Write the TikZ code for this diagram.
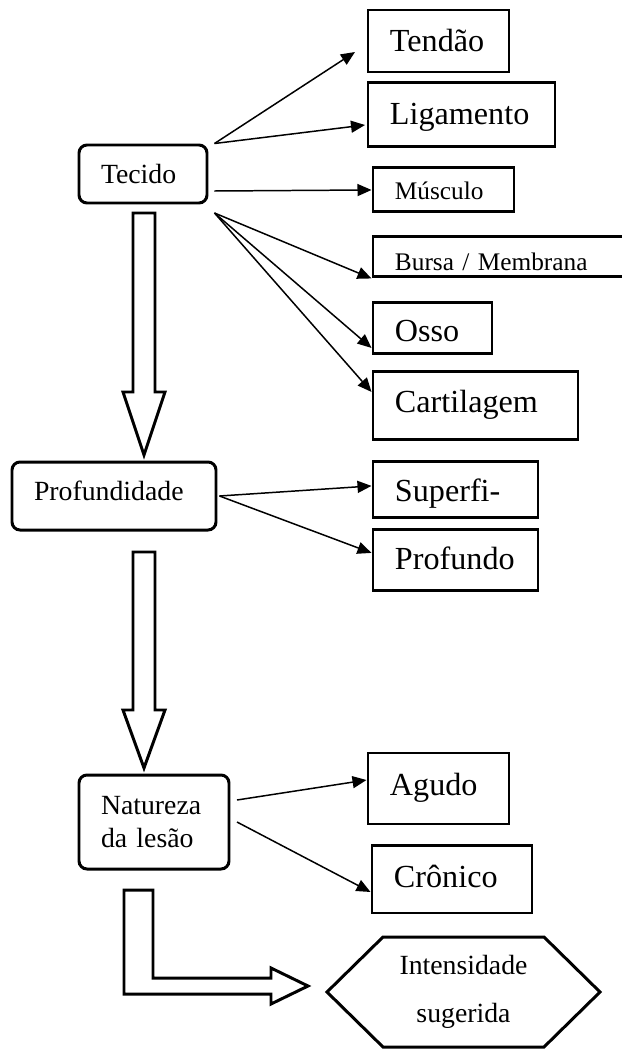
\documentclass[tikz,border=0pt]{standalone}
\usepackage{fontspec}
\setmainfont{Liberation Serif}
\usetikzlibrary{arrows.meta, positioning, calc}
\newcommand{\fontbig}{\fontsize{18.3}{21}\selectfont}
\newcommand{\fontmid}{\fontsize{15.8}{18.7}\selectfont}
\newcommand{\fontsmall}{\fontsize{14.4}{17}\selectfont}
\tikzset{
    category/.style={rectangle, draw, rounded corners=0.16cm, line width=1.7pt, inner xsep=0.44cm, inner ysep=0pt, align=left, font=\fontmid},
    option box/.style={rectangle, draw, line width=1.7pt, inner xsep=0.44cm, inner ysep=0pt, align=left, text depth=0pt, font=\fontbig},
    result/.style={inner sep=0pt, outer sep=0pt, align=center, font=\fontsize{15.8}{27.2}\selectfont},
    link/.style={-{Triangle[length=0.28cm, width=0.24cm]}, line width=0.85pt},
    block arrow/.style={draw, line width=1.7pt, fill=white, line join=miter}
}

\begin{document}
\begin{tikzpicture}
    \useasboundingbox (0,0) rectangle (12.44,-20.98);

    % left column
    \node[category, text width=1.68cm, minimum height=1.16cm, text height=0.36cm, text depth=0pt] (tecido) at (2.86,-3.48) {Tecido};
    \node[category, text width=3.20cm, minimum height=1.36cm, text height=0.16cm, text depth=0pt] (profund) at (2.28,-9.92) {Profundidade};
    \node[category, text width=2.12cm, minimum height=1.88cm] (natureza) at (3.08,-16.44) {Natureza\\da lesão};
    \node[result, minimum width=5.46cm, minimum height=2.20cm] (intens) at (9.27,-19.84) {Intensidade\\sugerida};

    % right column
    \node[option box, text width=1.94cm, minimum height=1.24cm, text height=0.44cm, anchor=north west] (tendao) at (7.33,-0.17) {Tendão};
    \node[option box, text width=2.86cm, minimum height=1.28cm, text height=0.40cm, below=0.16cm of tendao.south west, anchor=north west] (ligamento) {Ligamento};
    \node[option box, font=\fontsmall, text width=1.94cm, minimum height=0.88cm, text height=0.40cm, below=0.36cm of ligamento.south west, anchor=north west, xshift=0.1cm] (musculo) {Músculo};
    \node[option box, font=\fontsmall, text width=4.52cm, minimum height=0.80cm, text height=0.56cm, below=0.44cm of musculo.south west, anchor=north west] (bursa) {Bursa / Membrana};
    \node[option box, text width=1.50cm, minimum height=1.02cm, text height=0.54cm, below=0.46cm of bursa.south west, anchor=north west] (osso) {Osso};
    \node[option box, text width=3.22cm, minimum height=1.36cm, text height=0.28cm, below=0.30cm of osso.south west, anchor=north west] (cartilagem) {Cartilagem};
    \node[option box, text width=2.42cm, minimum height=1.12cm, text height=0.48cm, below=0.38cm of cartilagem.south west, anchor=north west] (superficial) {Superfi-};
    \node[option box, text width=2.42cm, minimum height=1.22cm, text height=0.38cm, below=0.18cm of superficial.south west, anchor=north west] (profundo) {Profundo};
    \node[option box, text width=1.94cm, minimum height=1.42cm, text height=0.26cm, anchor=north west] (agudo) at (7.33,-15.03) {Agudo};
    \node[option box, text width=2.32cm, minimum height=1.34cm, text height=0.34cm, below=0.38cm of agudo.south west, anchor=north west, xshift=0.08cm] (cronico) {Crônico};

    % hexagon
    \draw[line width=1.7pt, line join=miter] (intens.west) -- ([xshift=1.12cm]intens.north west) -- ([xshift=-1.12cm]intens.north east) -- (intens.east) -- ([xshift=-1.12cm]intens.south east) -- ([xshift=1.12cm]intens.south west) -- cycle;

    % thin arrows
    \draw[link] ([xshift=0.12cm]tecido.north east) -- ([xshift=-0.23cm,yshift=-0.22cm]tendao.west);
    \draw[link] ([xshift=0.12cm]tecido.north east) -- ([xshift=-0.03cm,yshift=-0.20cm]ligamento.west);
    \draw[link] ([xshift=0.12cm,yshift=-0.34cm]tecido.east) -- (musculo.west);
    \draw[link] ([xshift=0.12cm,yshift=-0.17cm]tecido.south east) -- (bursa.south west);
    \draw[link] ([xshift=0.12cm,yshift=-0.17cm]tecido.south east) -- ([yshift=0.15cm]osso.south west);
    \draw[link] ([xshift=0.12cm,yshift=-0.17cm]tecido.south east) -- ([yshift=-0.43cm]cartilagem.north west);
    \draw[link] ([xshift=0.04cm]profund.east) -- ([yshift=0.08cm]superficial.west);
    \draw[link] ([xshift=0.04cm]profund.east) -- ([yshift=0.15cm]profundo.west);
    \draw[link] ([xshift=0.13cm,yshift=0.44cm]natureza.east) -- ([yshift=0.17cm]agudo.west);
    \draw[link] ([xshift=0.13cm]natureza.east) -- ([yshift=-0.25cm]cronico.west);

    % block arrows
    \draw[block arrow] ([xshift=-0.20cm,yshift=-0.17cm]tecido.south) -- ++(0,-3.58) -- ++(-0.20,0) -- ++(0.42,-1.26) -- ++(0.42,1.26) -- ++(-0.20,0) -- ++(0,3.58) -- cycle;
    \draw[block arrow] ([xshift=0.38cm,yshift=-0.41cm]profund.south) -- ++(0,-3.16) -- ++(-0.20,0) -- ++(0.42,-1.16) -- ++(0.42,1.16) -- ++(-0.20,0) -- ++(0,3.16) -- cycle;
    \draw[block arrow] ([xshift=-0.60cm,yshift=-0.39cm]natureza.south) -- ++(0,-2.08) -- ++(2.94,0) -- ++(0,-0.20) -- ++(0.74,0.36) -- ++(-0.74,0.36) -- ++(0,-0.20) -- ++(-2.36,0) -- ++(0,1.76) -- cycle;
\end{tikzpicture}
\end{document}
